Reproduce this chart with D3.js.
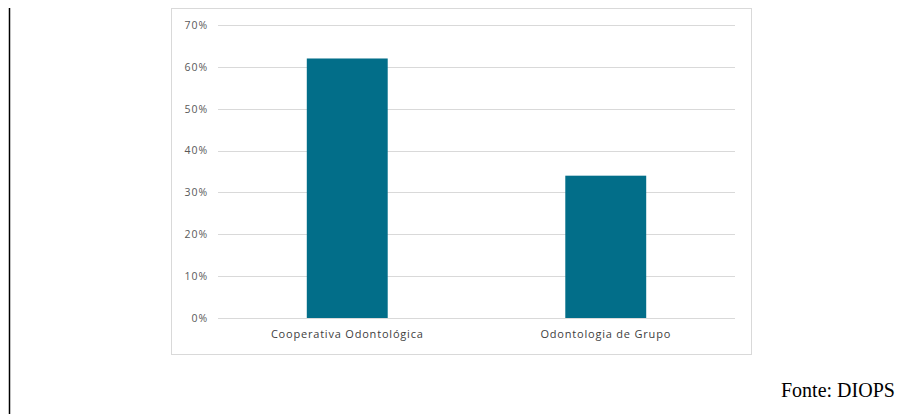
<!DOCTYPE html>
<html><head><meta charset="utf-8">
<script src="https://cdn.jsdelivr.net/npm/d3@7"></script>
<style>
html,body{margin:0;padding:0;background:#fff;}
svg{display:block;}
</style></head>
<body><svg id="c" width="899" height="414"></svg>
<script>
const categories = ["Cooperativa Odontológica", "Odontologia de Grupo"];
const values = [0.62, 0.34];
const yTicks = [0, 0.1, 0.2, 0.3, 0.4, 0.5, 0.6, 0.7];
const sourceText = "Fonte: DIOPS";

const svg = d3.select("#c");
svg.append("line").attr("x1",9.5).attr("x2",9.5).attr("y1",8).attr("y2",414)
  .attr("stroke","#000").attr("stroke-width",1.5);
svg.append("rect").attr("x",171.5).attr("y",8.5).attr("width",580).attr("height",346)
  .attr("fill","#fff").attr("stroke","#d9d9d9");

const x = d3.scaleBand().domain(categories).range([218,735]).paddingInner(0.687).paddingOuter(0.3435);
const y = d3.scaleLinear().domain([0,0.7]).range([318,25]);

const g = svg.append("g");
const yAxis = d3.axisLeft(y).tickValues(yTicks).tickFormat(d3.format(".0%")).tickSize(0).tickPadding(10);
const ya = g.append("g").attr("transform","translate(218,0)").call(yAxis);
ya.select(".domain").remove();
ya.selectAll("text").attr("fill","#595959").style("font-family","'Open Sans', sans-serif")
  .style("font-size","10.5px").style("letter-spacing","0.9px");
g.selectAll(".grid").data(yTicks).enter().append("line")
  .attr("x1",218).attr("x2",735)
  .attr("y1",d=>Math.round(y(d))+0.5).attr("y2",d=>Math.round(y(d))+0.5)
  .attr("stroke","#d9d9d9").attr("stroke-width",1);

g.selectAll(".bar").data(values).enter().append("rect")
  .attr("x",(d,i)=>x(categories[i]))
  .attr("width",x.bandwidth())
  .attr("y",d=>y(d))
  .attr("height",d=>y(0)-y(d))
  .attr("fill","#026e89");

const xAxis = d3.axisBottom(x).tickSize(0).tickPadding(12);
const xa = g.append("g").attr("transform","translate(0,318)").call(xAxis);
xa.select(".domain").remove();
xa.selectAll("text").attr("fill","#404040").style("font-family","'Open Sans', sans-serif")
  .style("font-size","11px").style("letter-spacing","0.8px");

svg.append("text").attr("x",781).attr("y",397).text(sourceText)
  .style("font-family","'Liberation Serif', 'Times New Roman', serif").style("font-size","20px").attr("fill","#000");
</script></body></html>
